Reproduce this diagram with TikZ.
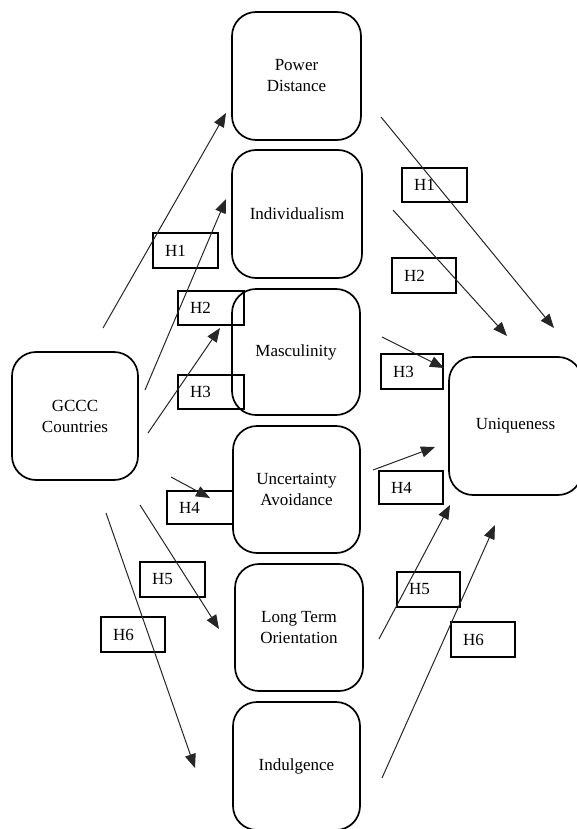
\documentclass[tikz,border=0pt]{standalone}
\usepackage{fontspec}
\setmainfont{Liberation Serif}
\usetikzlibrary{arrows.meta}
\begin{document}
\begin{tikzpicture}[x=1pt,y=-1pt,
  bigbox/.style={draw=black, line width=1.7pt, rounded corners=24pt, align=center,
    font=\fontsize{17}{21}\selectfont, inner sep=0pt},
  hbox/.style={draw=black, line width=1.6pt, align=left, inner xsep=12pt, inner ysep=0pt,
    font=\fontsize{17}{21}\selectfont},
  arr/.style={draw=black!85, line width=1pt, -{Triangle[length=14pt,width=11pt]}}]
\useasboundingbox (0,0) rectangle (576,829);
% main boxes
\node[bigbox, minimum width=129pt, minimum height=128pt] (pd) at (296.5,76) {Power\\Distance};
\node[bigbox, minimum width=130pt, minimum height=128pt] (ind) at (297,214) {Individualism};
\node[bigbox, minimum width=128pt, minimum height=126pt] (mas) at (296,352) {Masculinity};
\node[bigbox, minimum width=127pt, minimum height=127pt] (ua) at (296.5,489.5) {Uncertainty\\Avoidance};
\node[bigbox, minimum width=128pt, minimum height=127pt] (lto) at (299,627.5) {Long Term\\Orientation};
\node[bigbox, minimum width=127pt, minimum height=128pt] (indu) at (296.5,766) {Indulgence};
\node[bigbox, minimum width=126pt, minimum height=128pt] (gccc) at (75,416) {GCCC\\Countries};
\node[bigbox, minimum width=133pt, minimum height=138pt] (uniq) at (515.5,426) {Uniqueness};
% left label boxes
\node[hbox, text width=41pt, minimum height=35pt] (l1) at (185.5,250.5) {H1};
\node[hbox, text width=42pt, minimum height=34pt] (l2) at (211,308) {H2};
\node[hbox, text width=42pt, minimum height=34pt] (l3) at (211,392) {H3};
\node[hbox, text width=42pt, minimum height=33pt] (l4) at (200,507.5) {H4};
\node[hbox, text width=41pt, minimum height=35pt] (l5) at (172.5,579.5) {H5};
\node[hbox, text width=40pt, minimum height=35pt] (l6) at (133,634.5) {H6};
% right label boxes
\node[hbox, text width=41pt, minimum height=34pt] (r1) at (434.5,185) {H1};
\node[hbox, text width=40pt, minimum height=35pt] (r2) at (424,275.5) {H2};
\node[hbox, text width=38pt, minimum height=35pt] (r3) at (412,371.5) {H3};
\node[hbox, text width=40pt, minimum height=33pt] (r4) at (411,487.5) {H4};
\node[hbox, text width=39pt, minimum height=35pt] (r5) at (428.5,589.5) {H5};
\node[hbox, text width=40pt, minimum height=35pt] (r6) at (483,639.5) {H6};
% arrow end points
\coordinate (a1s) at (103,328); \coordinate (a1e) at (226,113);
\coordinate (a2s) at (145,390); \coordinate (a2e) at (226,199);
\coordinate (a3s) at (148,433); \coordinate (a3e) at (220,328);
\coordinate (a4s) at (171,477); \coordinate (a4e) at (210,498);
\coordinate (a5s) at (140,505); \coordinate (a5e) at (219,629);
\coordinate (a6s) at (106,513); \coordinate (a6e) at (195,768);
\coordinate (b1s) at (381,117); \coordinate (b1e) at (554,328);
\coordinate (b2s) at (393,210); \coordinate (b2e) at (507,336);
\coordinate (b3s) at (382,337); \coordinate (b3e) at (444,368);
\coordinate (b4s) at (373,470); \coordinate (b4e) at (435,447);
\coordinate (b5s) at (379,639); \coordinate (b5e) at (450,505);
\coordinate (b6s) at (382,778); \coordinate (b6e) at (495,525);
\foreach \n in {a1,a2,a3,a4,a5,a6,b1,b2,b3,b4,b5,b6}
  \draw[arr] (\n s) -- (\n e);
\end{tikzpicture}
\end{document}
